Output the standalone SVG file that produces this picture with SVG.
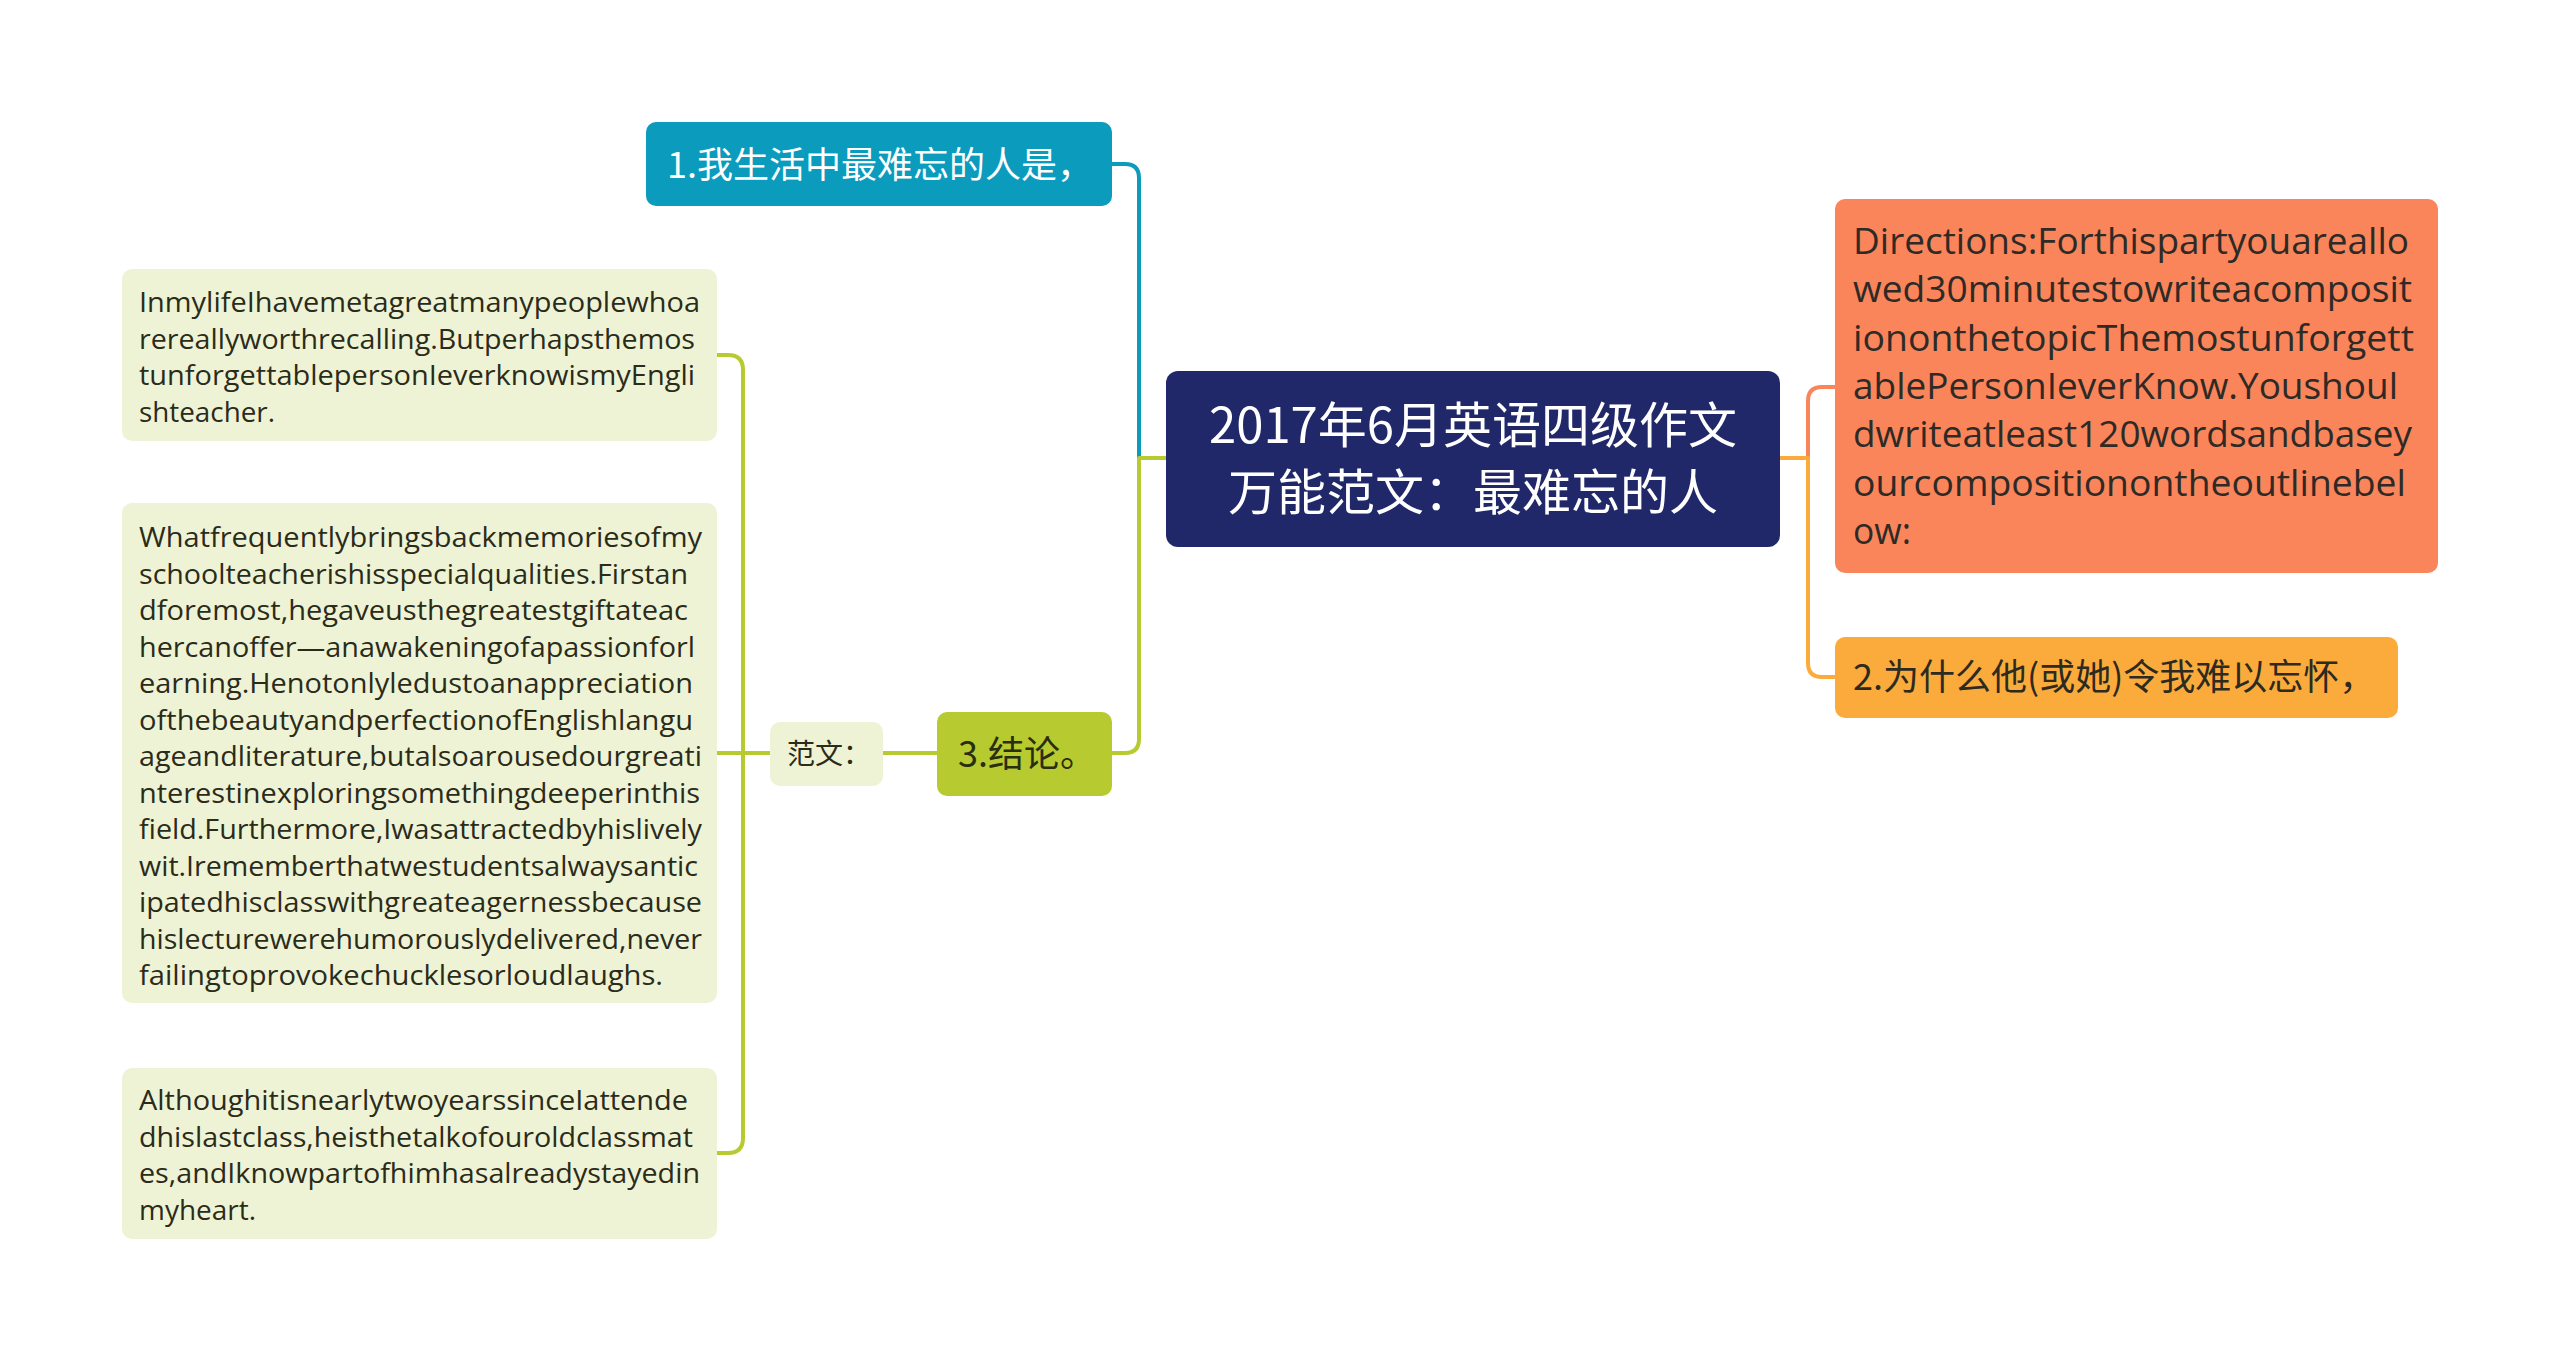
<svg xmlns="http://www.w3.org/2000/svg" width="2560" height="1362" viewBox="0 0 2560 1362">
<style>
.bg{fill:#ffffff}
.line{fill:none;stroke-width:4;stroke-linecap:round;stroke-linejoin:round}
.body{font-family:"Open Sans","Noto Sans CJK SC",sans-serif;font-size:28px;fill:#2b2b1a}
.dir{font-family:"Open Sans","Noto Sans CJK SC",sans-serif;font-size:36px;fill:#2e2a26}
.n1{font-family:"Noto Sans CJK SC","Open Sans",sans-serif;font-size:36px}
.root{font-family:"Noto Sans CJK SC","Open Sans",sans-serif;font-size:49px;fill:#ffffff}
.leaf{fill:#eff3d6}
</style>
<rect class="bg" x="0" y="0" width="2560" height="1362"/>
<g id="connectors">
  <path class="line" stroke="#0a9bbd" d="M1139,458 V178 Q1139,164 1125,164 H1112"/>
  <path class="line" stroke="#b7ca2f" d="M1166,458 H1139 V739 Q1139,753 1125,753 H1112"/>
  <path class="line" stroke="#b7ca2f" d="M937,753 H883"/>
  <path class="line" stroke="#b7ca2f" d="M770,753 H717"/>
  <path class="line" stroke="#b7ca2f" d="M717,355 H728 Q743,355 743,370 V1138 Q743,1153 728,1153 H717"/>
  <path class="line" stroke="#fa855b" d="M1808,458 V401 Q1808,387 1822,387 H1835"/>
  <path class="line" stroke="#fbab3b" d="M1780,458 H1808 V663 Q1808,677 1822,677 H1835"/>
</g>
<g id="root">
  <rect x="1166" y="371" width="614" height="176" rx="12" fill="#20286a"/>
  <text class="root" x="1473" y="443" text-anchor="middle">2017年6月英语四级作文</text>
  <text class="root" x="1473" y="510" text-anchor="middle">万能范文：最难忘的人</text>
</g>
<g id="node1">
  <rect x="646" y="122" width="466" height="84" rx="10" fill="#0a9bbd"/>
  <text class="n1" x="667" y="178" fill="#ffffff">1.我生活中最难忘的人是，</text>
</g>
<g id="node3">
  <rect x="937" y="712" width="175" height="84" rx="10" fill="#b7ca2f"/>
  <text class="n1" x="958" y="767" fill="#2a2e10">3.结论。</text>
</g>
<g id="fanwen">
  <rect x="770" y="722" width="113" height="64" rx="10" class="leaf"/>
  <text class="body" x="787" y="764">范文：</text>
</g>
<g id="boxA">
  <rect x="122" y="269" width="595" height="172" rx="10" class="leaf"/>
  <text class="body" x="139" y="312" textLength="561" lengthAdjust="spacingAndGlyphs">InmylifeIhavemetagreatmanypeoplewhoa</text>
  <text class="body" x="139" y="348.5" textLength="556" lengthAdjust="spacingAndGlyphs">rereallyworthrecalling.Butperhapsthemos</text>
  <text class="body" x="139" y="385" textLength="556" lengthAdjust="spacingAndGlyphs">tunforgettablepersonIeverknowismyEngli</text>
  <text class="body" x="139" y="421.5" textLength="136" lengthAdjust="spacingAndGlyphs">shteacher.</text>
</g>
<g id="boxB">
  <rect x="122" y="503" width="595" height="500" rx="10" class="leaf"/>
  <text class="body" x="139" y="547" textLength="563" lengthAdjust="spacingAndGlyphs">Whatfrequentlybringsbackmemoriesofmy</text>
  <text class="body" x="139" y="583.5" textLength="549" lengthAdjust="spacingAndGlyphs">schoolteacherishisspecialqualities.Firstan</text>
  <text class="body" x="139" y="620" textLength="549" lengthAdjust="spacingAndGlyphs">dforemost,hegaveusthegreatestgiftateac</text>
  <text class="body" x="139" y="656.5" textLength="556" lengthAdjust="spacingAndGlyphs">hercanoffer—anawakeningofapassionforl</text>
  <text class="body" x="139" y="693" textLength="554" lengthAdjust="spacingAndGlyphs">earning.Henotonlyledustoanappreciation</text>
  <text class="body" x="139" y="729.5" textLength="554" lengthAdjust="spacingAndGlyphs">ofthebeautyandperfectionofEnglishlangu</text>
  <text class="body" x="139" y="766" textLength="563" lengthAdjust="spacingAndGlyphs">ageandliterature,butalsoarousedourgreati</text>
  <text class="body" x="139" y="802.5" textLength="561" lengthAdjust="spacingAndGlyphs">nterestinexploringsomethingdeeperinthis</text>
  <text class="body" x="139" y="839" textLength="563" lengthAdjust="spacingAndGlyphs">field.Furthermore,Iwasattractedbyhislively</text>
  <text class="body" x="139" y="875.5" textLength="559" lengthAdjust="spacingAndGlyphs">wit.Irememberthatwestudentsalwaysantic</text>
  <text class="body" x="139" y="912" textLength="563" lengthAdjust="spacingAndGlyphs">ipatedhisclasswithgreateagernessbecause</text>
  <text class="body" x="139" y="948.5" textLength="563" lengthAdjust="spacingAndGlyphs">hislecturewerehumorouslydelivered,never</text>
  <text class="body" x="139" y="985" textLength="524" lengthAdjust="spacingAndGlyphs">failingtoprovokechucklesorloudlaughs.</text>
</g>
<g id="boxC">
  <rect x="122" y="1068" width="595" height="171" rx="10" class="leaf"/>
  <text class="body" x="139" y="1110" textLength="549" lengthAdjust="spacingAndGlyphs">AlthoughitisnearlytwoyearssinceIattende</text>
  <text class="body" x="139" y="1146.5" textLength="554" lengthAdjust="spacingAndGlyphs">dhislastclass,heisthetalkofouroldclassmat</text>
  <text class="body" x="139" y="1183" textLength="561" lengthAdjust="spacingAndGlyphs">es,andIknowpartofhimhasalreadystayedin</text>
  <text class="body" x="139" y="1219.5" textLength="117" lengthAdjust="spacingAndGlyphs">myheart.</text>
</g>
<g id="directions">
  <rect x="1835" y="199" width="603" height="374" rx="10" fill="#fa855b"/>
  <text class="dir" x="1853" y="254" textLength="556" lengthAdjust="spacingAndGlyphs">Directions:Forthispartyouareallo</text>
  <text class="dir" x="1853" y="302.3" textLength="559" lengthAdjust="spacingAndGlyphs">wed30minutestowriteacomposit</text>
  <text class="dir" x="1853" y="350.6" textLength="561" lengthAdjust="spacingAndGlyphs">iononthetopicThemostunforgett</text>
  <text class="dir" x="1853" y="399" textLength="545" lengthAdjust="spacingAndGlyphs">ablePersonIeverKnow.Youshoul</text>
  <text class="dir" x="1853" y="447" textLength="559" lengthAdjust="spacingAndGlyphs">dwriteatleast120wordsandbasey</text>
  <text class="dir" x="1853" y="495.5" textLength="553" lengthAdjust="spacingAndGlyphs">ourcompositionontheoutlinebel</text>
  <text class="dir" x="1853" y="544" textLength="58" lengthAdjust="spacingAndGlyphs">ow:</text>
</g>
<g id="node2">
  <rect x="1835" y="637" width="563" height="81" rx="10" fill="#fbab3b"/>
  <text class="n1" x="1853" y="690" fill="#2d2a20">2.为什么他(或她)令我难以忘怀，</text>
</g>
</svg>
